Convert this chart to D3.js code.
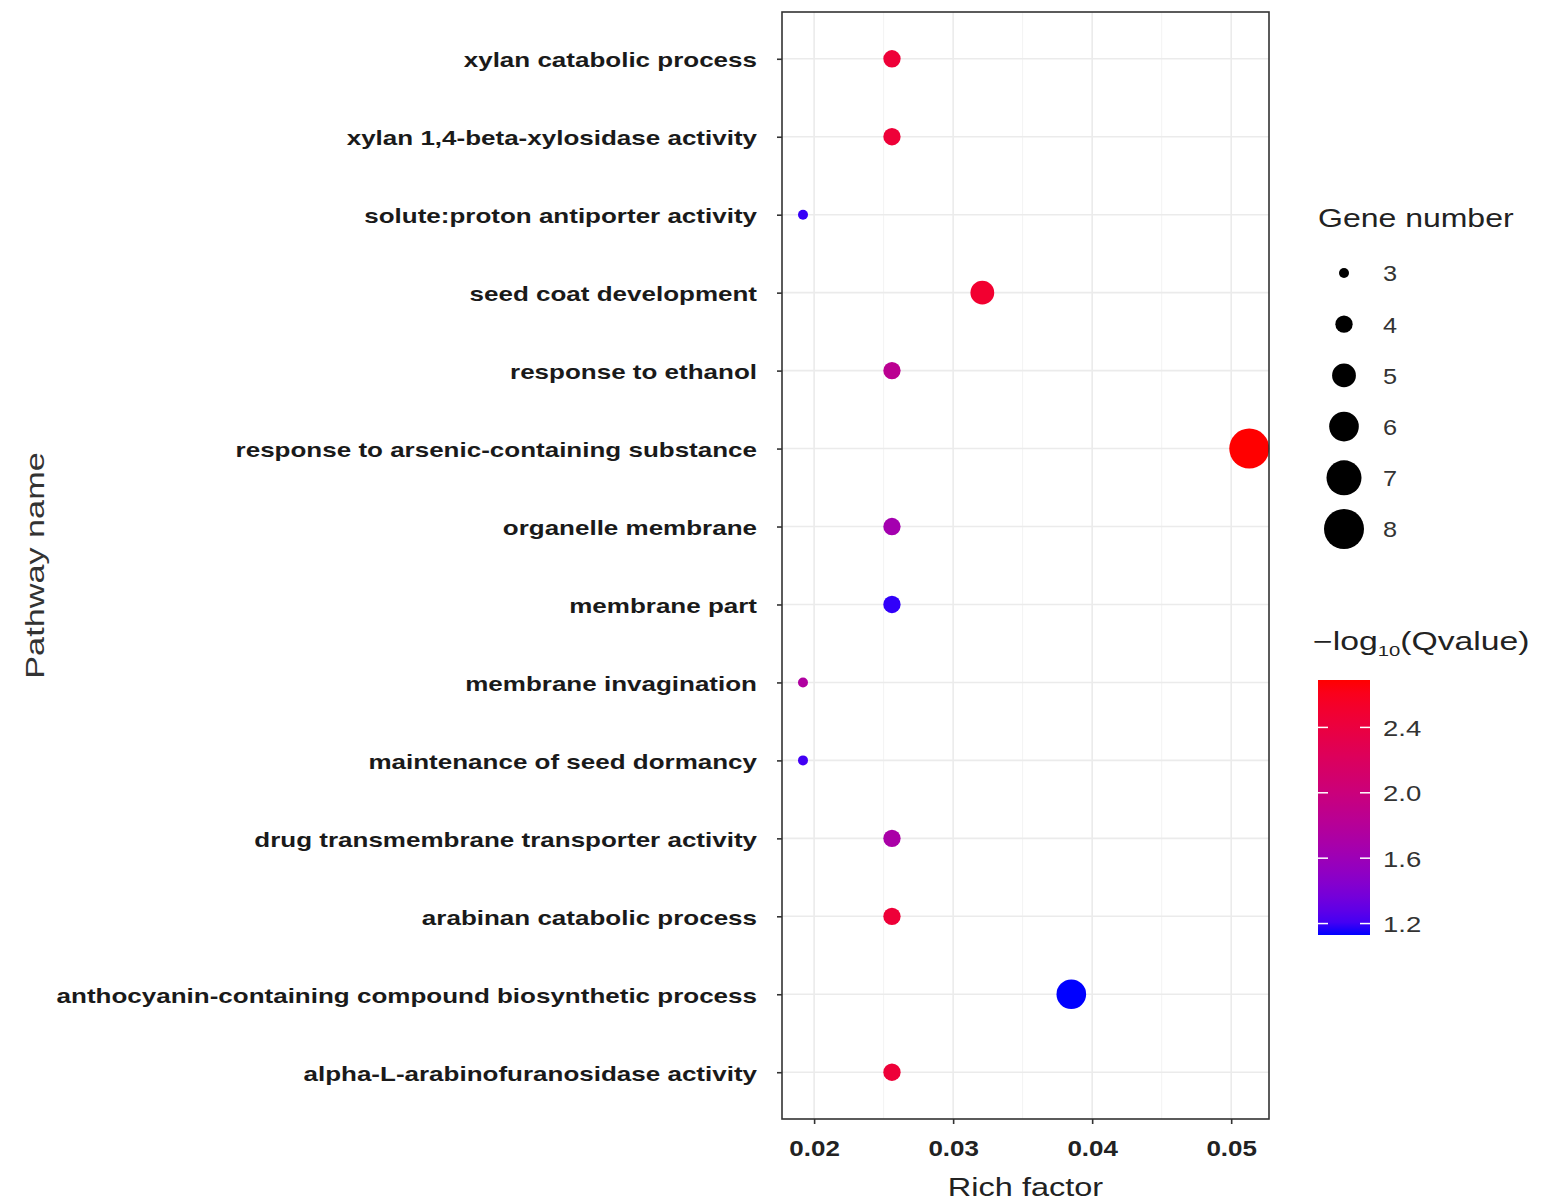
<!DOCTYPE html>
<html><head><meta charset="utf-8">
<script src="https://cdn.jsdelivr.net/npm/d3@7"></script>
<style>body{margin:0;background:#fff;} svg{display:block;}</style>
</head><body>
<svg id="chart" width="1543" height="1204"></svg>
<script>
// ---- data ----
const pathways = [
  "xylan catabolic process",
  "xylan 1,4-beta-xylosidase activity",
  "solute:proton antiporter activity",
  "seed coat development",
  "response to ethanol",
  "response to arsenic-containing substance",
  "organelle membrane",
  "membrane part",
  "membrane invagination",
  "maintenance of seed dormancy",
  "drug transmembrane transporter activity",
  "arabinan catabolic process",
  "anthocyanin-containing compound biosynthetic process",
  "alpha-L-arabinofuranosidase activity"
];
const richFactor = [0.0256, 0.0256, 0.0192, 0.0321, 0.0256, 0.0513, 0.0256, 0.0256, 0.0192, 0.0192, 0.0256, 0.0256, 0.0385, 0.0256];
const geneNumber = [4, 4, 3, 5, 4, 8, 4, 4, 3, 3, 4, 4, 6, 4];
const qvalue = [2.45, 2.45, 1.18, 2.5, 1.85, 2.69, 1.65, 1.17, 1.75, 1.2, 1.7, 2.45, 1.13, 2.45];
const xTicks = [0.02, 0.03, 0.04, 0.05];
const xMinor = [0.025, 0.035, 0.045];
const sizeLegend = [3, 4, 5, 6, 7, 8];
const colorTicks = [1.2, 1.6, 2.0, 2.4];

const FONT = "Liberation Sans, Arial, sans-serif";
// stretch a horizontal text along its reading direction, keeping its anchor point
function stretch(sel, s) {
  sel.each(function () {
    const t = d3.select(this);
    const x0 = +t.attr("x") || 0, y0 = +t.attr("y") || 0;
    const prev = t.attr("transform") || "";
    t.attr("x", 0).attr("y", 0).attr("transform", `${prev} translate(${x0},${y0}) scale(${s},1)`);
  });
}

// ---- layout ----
const svg = d3.select("#chart");
const P = {l: 782, r: 1269, t: 12, b: 1119};
const x = d3.scaleLinear().domain([0.01769, 0.05272]).range([P.l, P.r]);
const y = d3.scalePoint().domain(pathways).range([P.t, P.b]).padding(0.6);
const sizeNorm = d3.scaleSqrt().domain([3, 8]).range([0, 1]);
const rad = v => (10 + 30 * sizeNorm(v)) / 2;
const cDomain = [1.13, 2.69];
const color = d3.scaleLinear().domain(cDomain).range(["blue", "red"]).interpolate(d3.interpolateLab);

// grid
const g = svg.append("g");
g.selectAll(".minor").data(xMinor).join("line")
  .attr("x1", d => x(d)).attr("x2", d => x(d)).attr("y1", P.t).attr("y2", P.b)
  .attr("stroke", "#f3f3f3").attr("stroke-width", 1);
g.selectAll(".majx").data(xTicks).join("line")
  .attr("x1", d => x(d)).attr("x2", d => x(d)).attr("y1", P.t).attr("y2", P.b)
  .attr("stroke", "#ebebeb").attr("stroke-width", 1.6);
g.selectAll(".majy").data(pathways).join("line")
  .attr("x1", P.l).attr("x2", P.r).attr("y1", d => y(d)).attr("y2", d => y(d))
  .attr("stroke", "#ebebeb").attr("stroke-width", 1.6);

// points
const pts = pathways.map((p, i) => ({p, rf: richFactor[i], n: geneNumber[i], q: qvalue[i]}));
svg.append("g").selectAll("circle").data(pts).join("circle")
  .attr("cx", d => x(d.rf)).attr("cy", d => y(d.p)).attr("r", d => rad(d.n))
  .attr("fill", d => color(d.q));

// border
svg.append("rect").attr("x", P.l).attr("y", P.t).attr("width", P.r - P.l).attr("height", P.b - P.t)
  .attr("fill", "none").attr("stroke", "#333").attr("stroke-width", 1.6);

// axes
const xAxis = svg.append("g").attr("transform", `translate(0,${P.b})`)
  .call(d3.axisBottom(x).tickValues(xTicks).tickSize(5).tickPadding(16).tickFormat(d3.format(".2f")));
xAxis.select(".domain").remove();
xAxis.selectAll("line").attr("stroke", "#333").attr("stroke-width", 1.6);
xAxis.selectAll("text").attr("font-family", FONT).attr("font-weight", "bold")
  .attr("font-size", 22).attr("fill", "#222").call(stretch, 1.18);

const yAxis = svg.append("g").attr("transform", `translate(${P.l},0)`)
  .call(d3.axisLeft(y).tickSize(5).tickPadding(20));
yAxis.select(".domain").remove();
yAxis.selectAll("line").attr("stroke", "#333").attr("stroke-width", 1.6);
yAxis.selectAll("text").attr("font-family", FONT).attr("font-weight", "bold")
  .attr("font-size", 20).attr("fill", "#1a1a1a").attr("dy", "0.4em").call(stretch, 1.3);

// axis titles
svg.append("text").attr("x", (P.l + P.r) / 2).attr("y", 1196).attr("text-anchor", "middle")
  .attr("font-family", FONT).attr("font-size", 25).attr("fill", "#222")
  .text("Rich factor").call(stretch, 1.3);
svg.append("text").attr("transform", `translate(44,${(P.t + P.b) / 2}) rotate(-90) scale(1.37,1)`).attr("text-anchor", "middle")
  .attr("font-family", FONT).attr("font-size", 25).attr("fill", "#333")
  .text("Pathway name");

// size legend
const lg = svg.append("g");
lg.append("text").attr("x", 1318).attr("y", 227).attr("font-family", FONT)
  .attr("font-size", 25).attr("fill", "#222").text("Gene number").call(stretch, 1.28);
const sy = d3.scalePoint().domain(sizeLegend).range([273, 529]);
lg.selectAll("circle").data(sizeLegend).join("circle")
  .attr("cx", 1344).attr("cy", d => sy(d)).attr("r", d => rad(d)).attr("fill", "#000");
lg.selectAll(".sl").data(sizeLegend).join("text")
  .attr("x", 1383).attr("y", d => sy(d)).attr("dy", "0.38em")
  .attr("font-family", FONT).attr("font-size", 22).attr("fill", "#333").text(d => d).call(stretch, 1.15);

// color legend
const cg = svg.append("g");
const ct = cg.append("text").attr("x", 1313).attr("y", 650).attr("font-family", FONT)
  .attr("font-size", 25).attr("fill", "#222");
ct.append("tspan").text("\u2212log");
ct.append("tspan").attr("font-size", 15).attr("dy", 6).text("10");
ct.append("tspan").attr("dy", -6).text("(Qvalue)");
ct.call(stretch, 1.35);
const cb = {x: 1318, w: 52, t: 680, b: 935};
const cy = d3.scaleLinear().domain(cDomain).range([cb.b, cb.t]);
const defs = svg.append("defs");
const grad = defs.append("linearGradient").attr("id", "qgrad").attr("x1", 0).attr("y1", 1).attr("x2", 0).attr("y2", 0);
d3.range(0, 1.0001, 0.05).forEach(t => {
  grad.append("stop").attr("offset", t).attr("stop-color", color(cDomain[0] + t * (cDomain[1] - cDomain[0])));
});
cg.append("rect").attr("x", cb.x).attr("y", cb.t).attr("width", cb.w).attr("height", cb.b - cb.t).attr("fill", "url(#qgrad)");
colorTicks.forEach(v => {
  cg.append("line").attr("x1", cb.x).attr("x2", cb.x + 10).attr("y1", cy(v)).attr("y2", cy(v)).attr("stroke", "#fff").attr("stroke-width", 1.5);
  cg.append("line").attr("x1", cb.x + cb.w - 10).attr("x2", cb.x + cb.w).attr("y1", cy(v)).attr("y2", cy(v)).attr("stroke", "#fff").attr("stroke-width", 1.5);
});
cg.selectAll(".cl").data(colorTicks).join("text")
  .attr("x", 1383).attr("y", d => cy(d)).attr("dy", "0.38em")
  .attr("font-family", FONT).attr("font-size", 22).attr("fill", "#333")
  .text(d => d3.format(".1f")(d)).call(stretch, 1.25);
</script>
</body></html>
